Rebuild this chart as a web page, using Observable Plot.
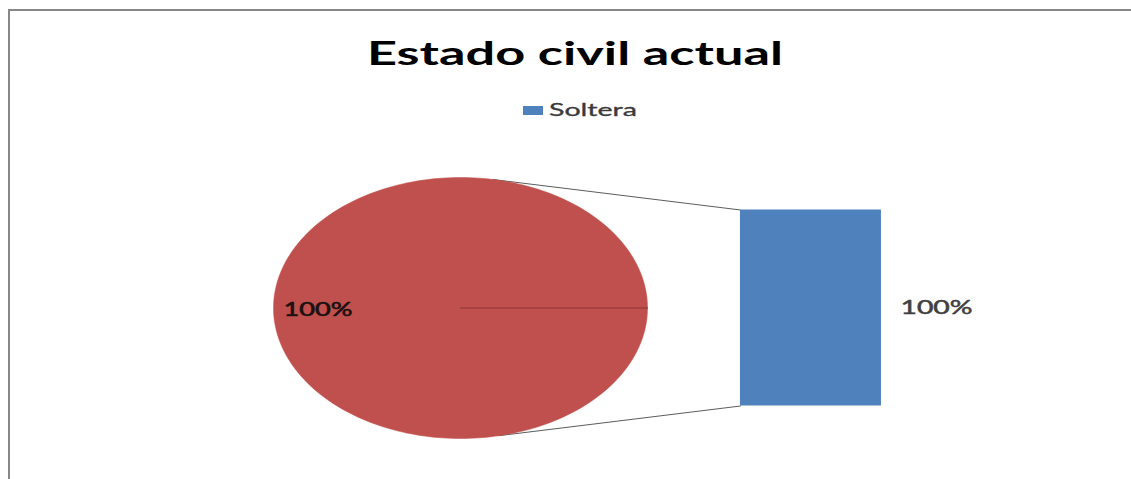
<!DOCTYPE html>
<html><head><meta charset="utf-8">
<script src="https://cdn.jsdelivr.net/npm/d3@7"></script>
<script src="https://cdn.jsdelivr.net/npm/@observablehq/plot@0.6"></script>
<style>
html,body{margin:0;padding:0;background:#fff;width:1131px;height:479px;overflow:hidden;font-family:Lato,"Open Sans",sans-serif;position:relative}
#rule-top{position:absolute;left:8px;top:9px;width:1123px;height:2px;background:#878787}
#rule-left{position:absolute;left:8px;top:9px;width:2px;height:470px;background:#878787}
#title{position:absolute;left:0;top:37px;width:1131px;text-align:center;line-height:1;white-space:nowrap}
#title span{display:inline-block;font:700 32px Lato,sans-serif;line-height:1;color:#000;transform-origin:50% 50%}
#legend{position:absolute;left:523px;top:93.5px;transform-origin:0 50%;white-space:nowrap}
#chart{position:absolute;left:0;top:150px;width:1131px;height:329px;overflow:hidden}
</style></head><body>
<div id="rule-top"></div>
<div id="rule-left"></div>
<div id="title"><span></span></div>
<div id="legend"></div>
<div id="chart"></div>
<script>
// ---- data ----
const chartTitle = "Estado civil actual";
const barCategories = ["Soltera"];     // secondary (bar) categories
const barValues = [100];               // percent
const barLabels = ["100%"];
const pieCategories = ["Otro"];        // the pie's "other" slice holding the bar
const pieValues = [100];
const pieLabels = ["100%"];

// ---- styles / layout ----
const BAR_COLORS = ["#4F81BD"];
const PIE_COLOR = "#C0504D";
const W = 1131, H = 329, HEADER = 150;
const CX = 460, CY = 307.5, RX = 187, RY = 130.5;   // pie centre / radii in page pixels
const BAR_X = [1.497, 2.251];                        // bar extent in pie-radius units
const BAR_H = 1.502;                                 // bar height in pie-radius units
const CONNECT_DEG = [80, -78];
const FONT = "Lato";

// title, fitted to the reference's stretched lettering
const tspan = document.querySelector("#title span");
tspan.textContent = chartTitle;
const cvs = document.createElement("canvas").getContext("2d");
function textW(s, font){ cvs.font = font; return cvs.measureText(s).width; }
tspan.style.transform = `translateX(9.5px) scaleX(${416 / textW(chartTitle, "700 32px " + FONT)})`;

// legend
const legFont = 16.5;
const ls = 88 / textW(barCategories[0], `${legFont}px ${FONT}`);
const legend = Plot.legend({
  legend: "swatches",
  color: {type: "ordinal", domain: barCategories, range: BAR_COLORS},
  swatchWidth: 20 / ls, swatchHeight: 9,
  style: {fontFamily: FONT, fontSize: legFont + "px", color: "#3a3a3a", margin: "0", WebkitTextStroke: "0.3px #3a3a3a"}
});
const legEl = document.getElementById("legend");
legEl.appendChild(legend);
legEl.style.transform = `scaleX(${ls})`;
legend.querySelectorAll("svg").forEach(s => { s.style.marginRight = (6 / ls) + "px"; });

// pie geometry from d3.pie (angles clockwise from 12 o'clock; x = sin, y = cos)
const arcs = d3.pie().sort(null).startAngle(Math.PI / 2).endAngle(Math.PI / 2 + 2 * Math.PI)(pieValues);
const piePts = [];
arcs.forEach((a, i) => {
  piePts.push({slice: i, x: 0, y: 0});
  const n = 240;
  for (let k = 0; k <= n; k++) {
    const t = a.startAngle + (a.endAngle - a.startAngle) * k / n;
    piePts.push({slice: i, x: Math.sin(t), y: Math.cos(t)});
  }
});
const boundaries = arcs.map(a => [{x: 0, y: 0}, {x: Math.sin(a.startAngle), y: Math.cos(a.startAngle)}]).flat()
  .map((d, i) => ({...d, seg: Math.floor(i / 2)}));

// bar stack
const total = d3.sum(barValues);
let cum = 0;
const barRects = barValues.map((v, i) => {
  const y1 = -BAR_H / 2 + cum / total * BAR_H; cum += v;
  const y2 = -BAR_H / 2 + cum / total * BAR_H;
  return {cat: barCategories[i], y1, y2, label: barLabels[i], mid: (y1 + y2) / 2};
});

// connectors from pie edge to bar corners
const conn = [];
CONNECT_DEG.forEach((deg, i) => {
  const r = deg * Math.PI / 180;
  conn.push({seg: i, x: Math.cos(r), y: Math.sin(r)});
  conn.push({seg: i, x: BAR_X[0], y: i === 0 ? BAR_H / 2 : -BAR_H / 2});
});

const yTop = (CY - HEADER) / RY, yBot = (CY - HEADER - H) / RY;
const plot = Plot.plot({
  width: W, height: H, margin: 0,
  style: {fontFamily: FONT, background: "transparent"},
  x: {domain: [-CX / RX, (W - CX) / RX], axis: null},
  y: {domain: [yBot, yTop], axis: null},
  color: {domain: barCategories, range: BAR_COLORS},
  marks: [
    Plot.line(conn, {x: "x", y: "y", z: "seg", stroke: "#5c5c5c", strokeWidth: 1}),
    Plot.line(piePts, {x: "x", y: "y", z: "slice", fill: PIE_COLOR, stroke: PIE_COLOR, strokeWidth: 0.5, curve: "linear-closed"}),
    Plot.line(boundaries, {x: "x", y: "y", z: "seg", stroke: "#8a3634", strokeWidth: 1}),
    Plot.rect(barRects, {x1: BAR_X[0], x2: BAR_X[1], y1: "y1", y2: "y2", fill: "cat"}),
    Plot.text(pieLabels, {x: -0.9465, y: -0.017, text: d => d, textAnchor: "start", fontSize: 19, fill: "#1c1010", stroke: "#1c1010", strokeWidth: 0.6}),
    Plot.text(barRects, {x: 2.353, y: "mid", text: "label", textAnchor: "start", fontSize: 19, fill: "#404040", stroke: "#404040", strokeWidth: 0.5})
  ]
});
document.getElementById("chart").appendChild(plot);
const groups = plot.querySelectorAll('g[aria-label="text"]');
const targetW = [69, 72];
groups.forEach((g, gi) => g.querySelectorAll("text").forEach(t => {
  t.setAttribute("textLength", targetW[gi]);
  t.setAttribute("lengthAdjust", "spacingAndGlyphs");
}));
</script>
</body></html>
